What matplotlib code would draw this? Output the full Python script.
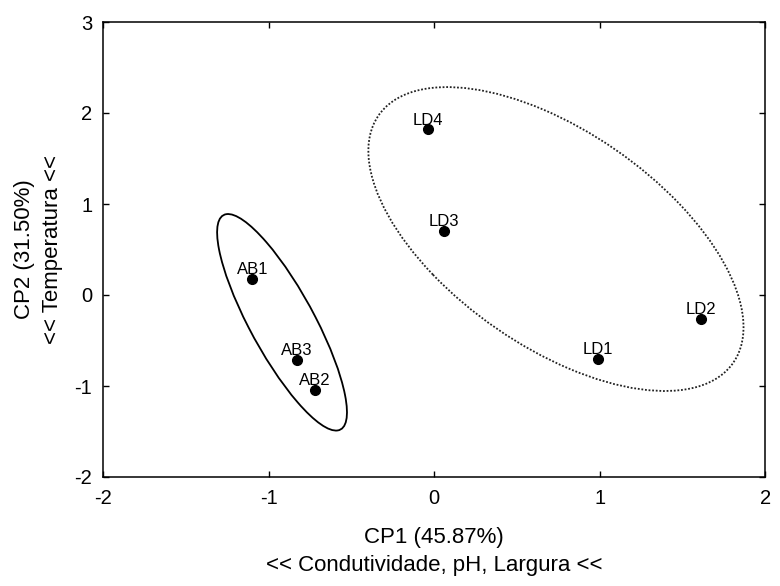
import matplotlib
matplotlib.use('Agg')
import matplotlib.pyplot as plt
from matplotlib.patches import Ellipse

plt.rcParams['font.family'] = ['Liberation Sans', 'DejaVu Sans']
plt.rcParams['axes.unicode_minus'] = False

# scores da PCA
samples = ['AB1', 'AB2', 'AB3', 'LD1', 'LD2', 'LD3', 'LD4']
cp1 = [-1.10, -0.72, -0.83, 0.99, 1.61, 0.06, -0.04]
cp2 = [0.18, -1.04, -0.71, -0.70, -0.26, 0.70, 1.82]

# elipses dos grupos (centro, largura, altura, angulo) em unidades dos eixos
ab_ellipse = ((-0.92, -0.30), 2.47, 0.42, -74.2)
ld_ellipse = ((0.735, 0.615), 3.67, 1.68, -62.2)

xticks = [-2, -1, 0, 1, 2]
yticks = [-2, -1, 0, 1, 2, 3]

fig = plt.figure(figsize=(7.8, 5.86), dpi=100)
ax = fig.add_axes([103.3 / 780, 1 - 477 / 586, 662 / 780, 455 / 586])

ax.plot(cp1, cp2, 'o', color='black', ms=7, zorder=3)
for name, x, y in zip(samples, cp1, cp2):
    ax.annotate(name, (x, y), xytext=(0, 3.5), textcoords='offset points',
                ha='center', va='baseline', fontsize=12, color='black')

c, w, h, a = ab_ellipse
ax.add_patch(Ellipse(c, w, h, angle=a, fill=False, ec='black', lw=1.3))
c, w, h, a = ld_ellipse
ax.add_patch(Ellipse(c, w, h, angle=a, fill=False, ec='#222222', lw=1.3,
                     ls=(0, (1, 1))))

ax.set_xlim(-2, 2)
ax.set_ylim(-2, 3)
ax.set_xticks(xticks)
ax.set_yticks(yticks)
ax.tick_params(direction='in', length=4, width=1, top=True, right=True,
               labelsize=14.5)
ax.tick_params(axis='x', pad=9)
ax.tick_params(axis='y', pad=8)
for s in ax.spines.values():
    s.set_linewidth(1.1)

ax.set_xlabel('CP1 (45.87%)\n<< Condutividade, pH, Largura <<',
              fontsize=16, linespacing=1.45, labelpad=13)
ax.set_ylabel('CP2 (31.50%)\n<< Temperatura <<',
              fontsize=16, linespacing=1.45, labelpad=8)

fig.savefig('out.png', dpi=100)
